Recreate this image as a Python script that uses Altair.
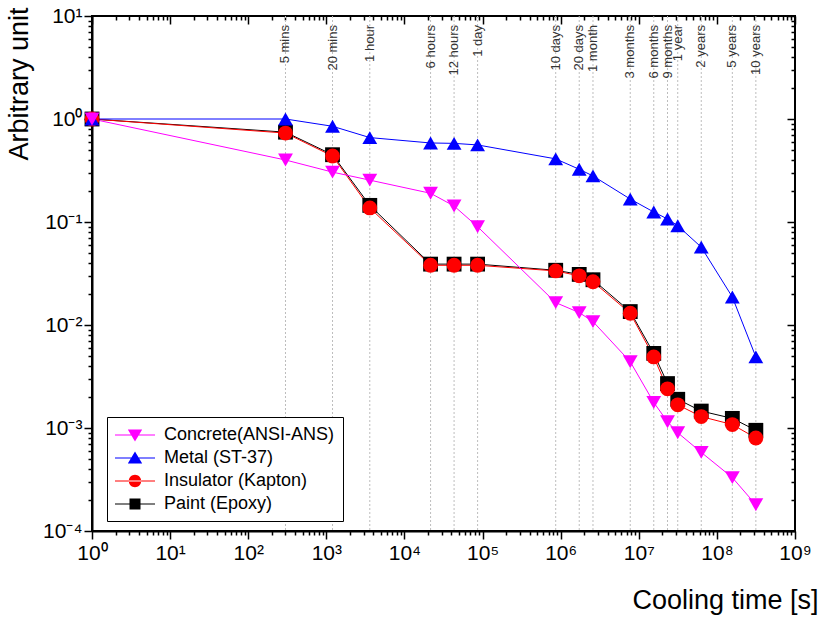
import altair as alt
import pandas as pd

# ---------------- data ----------------
times = [1, 300, 1200, 3600, 21600, 43200, 86400, 864000, 1728000, 2592000,
         7776000, 15552000, 23328000, 31536000, 63072000, 157680000, 315360000]

concrete = [1.0, 0.40, 0.305, 0.255, 0.19, 0.143, 0.09, 0.0165, 0.0132, 0.0108,
            0.0044, 0.00177, 0.00115, 0.00090, 0.00058, 0.00033, 0.00018]
metal = [1.0, 1.0, 0.85, 0.66, 0.585, 0.58, 0.56, 0.41, 0.325, 0.28,
         0.167, 0.125, 0.107, 0.092, 0.057, 0.0187, 0.0049]
insulator = [1.0, 0.73, 0.437, 0.137, 0.038, 0.038, 0.038, 0.0335, 0.030, 0.0263,
             0.0130, 0.0049, 0.0024, 0.00168, 0.00129, 0.00108, 0.00080]
paint = [1.0, 0.745, 0.45, 0.145, 0.039, 0.039, 0.039, 0.034, 0.031, 0.0275,
         0.0135, 0.0053, 0.0027, 0.0019, 0.00146, 0.00124, 0.00095]

label_times = times[1:]
time_labels = ["5 mins", "20 mins", "1 hour", "6 hours", "12 hours", "1 day",
               "10 days", "20 days", "1 month", "3 months", "6 months",
               "9 months", "1 year", "2 years", "5 years", "10 years"]

series_names = ["Concrete(ANSI-ANS)", "Metal (ST-37)", "Insulator (Kapton)", "Paint (Epoxy)"]
series_values = [concrete, metal, insulator, paint]
series_colors = ["#FF00FF", "#0000FF", "#FF0000", "#000000"]
series_shapes = ["triangle-down", "triangle-up", "circle", "square"]
series_sizes = [220, 220, 180, 140]

LINE = "M-2,-0.06L2,-0.06L2,0.06L-2,0.06Z "
legend_paths = [
    LINE + "M-0.72,-0.55L0.72,-0.55L0,0.65Z",
    LINE + "M0,-0.65L0.72,0.55L-0.72,0.55Z",
    LINE + "M-0.62,0A0.62,0.62 0 1,0 0.62,0A0.62,0.62 0 1,0 -0.62,0Z",
    LINE + "M-0.55,-0.55L0.55,-0.55L0.55,0.55L-0.55,0.55Z",
]

draw_order = [3, 2, 1, 0]  # paint at the bottom, concrete on top
rows = []
for i in draw_order:
    for t, v in zip(times, series_values[i]):
        rows.append({"time": t, "value": v, "Series": series_names[i]})
df = pd.DataFrame(rows)
ann = pd.DataFrame({"time": label_times, "label": time_labels})

# ---------------- layout ----------------
W, H = 703, 515
FONT = "Liberation Sans"

xscale = alt.Scale(type="log", domain=[1, 1e9])
yscale = alt.Scale(type="log", domain=[1e-4, 10])
color_scale = alt.Scale(domain=series_names, range=series_colors)

x_ticks = [m * 10 ** e for e in range(0, 9) for m in range(1, 10)] + [10 ** 9]
y_ticks = [m * 10.0 ** e for e in range(-4, 1) for m in range(1, 10)] + [10.0]

LOG = "(log(datum.value)/LN10)"
MAJOR = f"abs({LOG} - round({LOG})) < 0.01"
SUP = "['\u2070','\u00b9','\u00b2','\u00b3','\u2074','\u2075','\u2076','\u2077','\u2078','\u2079']"
label_expr = (f"{MAJOR} ? '10' + (round({LOG}) < 0 ? '\u207b' : '') + "
              f"{SUP}[abs(round({LOG}))] : ''")
tick_size = {"condition": {"test": MAJOR, "value": 8}, "value": 4}

common_axis = dict(tickColor="black", tickWidth=1.5, tickSize=tick_size, grid=False,
                   labelFont=FONT, labelColor="black", labelFontSize=21,
                   labelOverlap=False, labelFlush=False)

x_main = alt.Axis(values=x_ticks, labelExpr=label_expr, domainColor="black", domainWidth=2,
                  labelPadding=3, title="Cooling time [s]", titleFont=FONT,
                  titleFontSize=27, titleFontWeight="normal", titleColor="black",
                  titleX=726, titleY=77, titleAlign="right", titleBaseline="alphabetic",
                  **common_axis)
y_main = alt.Axis(values=y_ticks, labelExpr=label_expr, domainColor="black", domainWidth=2,
                  labelPadding=2, title="Arbitrary unit", titleFont=FONT,
                  titleFontSize=27, titleFontWeight="normal", titleColor="black",
                  titleAngle=270, titleX=-65, titleY=-9, titleAlign="right",
                  titleBaseline="alphabetic", **common_axis)
x_top = alt.Axis(orient="bottom", offset=-H, values=x_ticks, labels=False, domain=False,
                 title=None, tickColor="black", tickWidth=1.5, tickSize=tick_size, grid=False)
y_right = alt.Axis(orient="left", offset=-W, values=y_ticks, labels=False, domain=False,
                   title=None, tickColor="black", tickWidth=1.5, tickSize=tick_size, grid=False)

rules = alt.Chart(ann).mark_rule(color="#bdbdbd", strokeDash=[2, 2], strokeWidth=1).encode(
    x=alt.X("time:Q", scale=xscale, axis=x_main)
)

texts = alt.Chart(ann).mark_text(angle=270, align="right", baseline="middle",
                                 font=FONT, fontSize=13, color="#333333").encode(
    x=alt.X("time:Q", scale=xscale, axis=x_top),
    y=alt.value(9),
    text="label:N",
)

lines = alt.Chart(df).mark_line(strokeWidth=1).encode(
    x=alt.X("time:Q", scale=xscale, axis=None),
    y=alt.Y("value:Q", scale=yscale, axis=y_main),
    color=alt.Color("Series:N", scale=color_scale, legend=None),
    detail="Series:N",
)

points = alt.Chart(df).mark_point(filled=True, opacity=1).encode(
    x=alt.X("time:Q", scale=xscale, axis=None),
    y=alt.Y("value:Q", scale=yscale, axis=y_right),
    color=alt.Color("Series:N", scale=color_scale, legend=None),
    shape=alt.Shape("Series:N", scale=alt.Scale(domain=series_names, range=series_shapes),
                    legend=None),
    size=alt.Size("Series:N", scale=alt.Scale(domain=series_names, range=series_sizes),
                  legend=None),
)

leg = alt.Legend(title=None, orient="none", legendX=15, legendY=401,
                 strokeColor="black", fillColor="white", padding=8,
                 labelFont=FONT, labelFontSize=18, labelColor="black", labelLimit=400,
                 symbolSize=400, symbolStrokeWidth=0, symbolOffset=10, labelOffset=19,
                 rowPadding=4, cornerRadius=0)

legend_layer = alt.Chart(df).transform_filter("false").mark_point(filled=True, opacity=1).encode(
    x=alt.X("time:Q", scale=xscale, axis=None),
    y=alt.Y("value:Q", scale=yscale, axis=None),
    color=alt.Color("Series:N", scale=color_scale, legend=leg),
    shape=alt.Shape("Series:N", scale=alt.Scale(domain=series_names, range=legend_paths),
                    legend=leg),
)

chart = alt.layer(rules, texts, lines, points, legend_layer).resolve_axis(
    x="independent", y="independent"
).resolve_scale(shape="independent", size="independent").resolve_legend(
    color="independent", shape="independent", size="independent"
).properties(
    width=W, height=H, autosize="none",
    padding={"left": 92, "top": 16, "right": 25, "bottom": 88},
).configure_view(stroke="black", strokeWidth=2)

chart.save("out.html", embed_options={"renderer": "svg", "actions": False})
